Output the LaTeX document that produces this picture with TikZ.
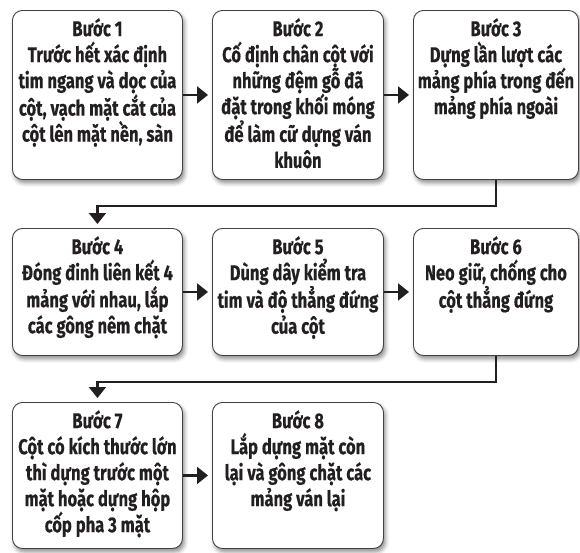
\documentclass[tikz,border=0pt]{standalone}
\usepackage{fontspec}
\setmainfont[FakeStretch=0.77,BoldFont={Fira Sans Bold},BoldFeatures={FakeStretch=0.77,FakeBold=0.3}]{Fira Sans}
\usetikzlibrary{arrows.meta,shadows.blur}
\definecolor{ink}{HTML}{231F20}
\tikzset{
  box/.style={draw=ink!85, line width=0.9pt, rounded corners=10pt, fill=white,
    blur shadow={shadow xshift=2pt, shadow yshift=-3.5pt, shadow blur radius=4pt, shadow opacity=45},
    inner sep=0pt, anchor=north west},
  txt/.style={anchor=north, inner sep=0pt, align=center, text=ink,
    font=\bfseries\fontsize{21.5}{26}\selectfont},
  conn/.style={draw=ink, line width=2.2pt, -{Triangle[length=11pt,width=17pt]}, shorten >=4pt}
}
\newcommand{\bx}[5]{% name, x, y, w, h
  \node[box, minimum width=#4pt, minimum height=#5pt] (#1) at (#2,#3) {};}
\begin{document}
\begin{tikzpicture}[x=1pt,y=-1pt]
\useasboundingbox (0,0) rectangle (580,552);
\bx{b1}{12}{10}{170}{169}
\bx{b2}{212}{10}{171}{169}
\bx{b3}{413}{10}{165}{169}
\bx{b4}{12}{228}{170}{127}
\bx{b5}{212}{228}{171}{127}
\bx{b6}{413}{228}{165}{127}
\bx{b7}{12}{402}{170}{146}
\bx{b8}{212}{402}{171}{146}
\newcommand{\st}{\rule{0pt}{20pt}}
\node[txt] (t1) at ([yshift=-6pt]b1.north) {\st Bước 1\\Trước hết xác định\\tim ngang và dọc của\\cột, vạch mặt cắt của\\cột lên mặt nền, sàn};
\node[txt] (t2) at ([yshift=-6pt]b2.north) {\st Bước 2\\Cố định chân cột với\\những đệm gỗ đã\\đặt trong khối móng\\để làm cữ dựng ván\\khuôn};
\node[txt] (t3) at ([yshift=-6pt]b3.north) {\st Bước 3\\Dựng lần lượt các\\mảng phía trong đến\\mảng phía ngoài};
\node[txt] (t4) at ([yshift=-6pt]b4.north) {\st Bước 4\\Đóng đinh liên kết 4\\mảng với nhau, lắp\\các gông nêm chặt};
\node[txt] (t5) at ([yshift=-6pt]b5.north) {\st Bước 5\\Dùng dây kiểm tra\\tim và độ thẳng đứng\\của cột};
\node[txt] (t6) at ([yshift=-6pt]b6.north) {\st Bước 6\\Neo giữ, chống cho\\cột thẳng đứng};
\node[txt] (t7) at ([yshift=-6pt]b7.north) {\st Bước 7\\Cột có kích thước lớn\\thì dựng trước một\\mặt hoặc dựng hộp\\cốp pha 3 mặt};
\node[txt] (t8) at ([yshift=-6pt]b8.north) {\st Bước 8\\Lắp dựng mặt còn\\lại và gông chặt các\\mảng ván lại};
\draw[conn] (b1) -- (b2);
\draw[conn] (b2) -- (b3);
\draw[conn] (b4) -- (b5);
\draw[conn] (b5) -- (b6);
\draw[conn] (b7) -- (b8);
\coordinate (e1) at ([yshift=-26pt]b3.south);
\coordinate (e2) at ([yshift=-26pt]b6.south);
\draw[conn] (b3.south) -- (e1) -| (b4.north);
\draw[conn] (b6.south) -- (e2) -| (b7.north);
\end{tikzpicture}
\end{document}
